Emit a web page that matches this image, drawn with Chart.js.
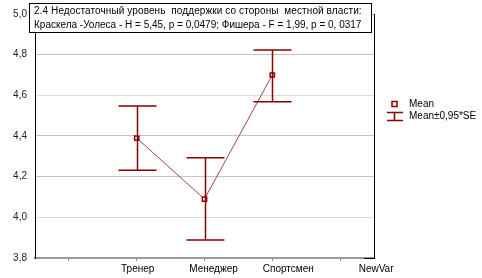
<!DOCTYPE html>
<html>
<head>
<meta charset="utf-8">
<script src="https://cdn.jsdelivr.net/npm/chart.js@4"></script>
<style>
  html, body { margin: 0; padding: 0; background: #fff; }
  #wrap { width: 482px; height: 278px; }
</style>
</head>
<body>
<div id="wrap"><canvas id="graph1" width="482" height="278"></canvas></div>
<script>
var categories = ['', 'Тренер', 'Менеджер', 'Спортсмен', 'NewVar'];
var means = [null, 4.39, 4.09, 4.70];
var upper = [null, 4.547, 4.293, 4.823];
var lower = [null, 4.232, 3.888, 4.568];
var yTicks = [3.8, 4.0, 4.2, 4.4, 4.6, 4.8, 5.0];
var titleLines = [
    '2.4 Недостаточный уровень  поддержки со стороны  местной власти:',
    'Краскела -Уолеса - H = 5,45, p = 0,0479; Фишера - F = 1,99, p = 0, 0317'
];
var legendLabels = ['Mean', 'Mean±0,95*SE'];

var barColor = '#8b0000';
var lineColor = '#a04848';
var fontFamily = '"Liberation Sans", Arial, sans-serif';
var font = '10px ' + fontFamily;
// statistica draws the category labels a little right of their ticks
var labelShift = [0, 1, 9, 16, 36];

var meanPoints = [];
means.forEach(function (m, i) {
    if (m !== null) meanPoints.push({ x: i, y: m });
});

// error bars, title box, legend, x labels and right border
var extras = {
    id: 'extras',
    afterDatasetsDraw: function (chart) {
        var ctx = chart.ctx;
        var xs = chart.scales.x, ys = chart.scales.y;
        ctx.save();
        ctx.strokeStyle = barColor;
        ctx.lineWidth = 1.5;
        means.forEach(function (m, i) {
            if (m === null) return;
            var px = Math.round(xs.getPixelForValue(i)) + 0.5;
            var pu = ys.getPixelForValue(upper[i]);
            var pl = ys.getPixelForValue(lower[i]);
            ctx.beginPath();
            ctx.moveTo(px, pu); ctx.lineTo(px, pl);
            ctx.moveTo(px - 19, pu); ctx.lineTo(px + 19, pu);
            ctx.moveTo(px - 19, pl); ctx.lineTo(px + 19, pl);
            ctx.stroke();
        });
        ctx.restore();
    },
    afterDraw: function (chart) {
        var ctx = chart.ctx;
        var area = chart.chartArea;
        var xs = chart.scales.x;
        ctx.save();
        // right border
        ctx.strokeStyle = '#000';
        ctx.lineWidth = 1;
        ctx.beginPath();
        ctx.moveTo(area.right + 0.5, area.top);
        ctx.lineTo(area.right + 0.5, area.bottom + 1);
        ctx.moveTo(area.right - 10, area.bottom + 0.5);
        ctx.lineTo(area.right + 1, area.bottom + 0.5);
        ctx.stroke();

        // category labels
        ctx.fillStyle = '#000';
        ctx.font = font;
        ctx.textBaseline = 'middle';
        ctx.textAlign = 'center';
        categories.forEach(function (c, i) {
            ctx.fillText(c, xs.getPixelForValue(i) + labelShift[i], 269);
        });

        // title box
        ctx.fillStyle = '#fff';
        ctx.fillRect(29.5, 3.5, 342, 29);
        ctx.strokeRect(29.5, 3.5, 342, 29);
        ctx.fillStyle = '#000';
        ctx.textAlign = 'left';
        ctx.letterSpacing = '0.1px';
        ctx.fillText(titleLines[0], 34, 11.5);
        ctx.letterSpacing = '0px';
        ctx.fillText(titleLines[1], 34, 25);

        // legend
        ctx.strokeStyle = barColor;
        ctx.lineWidth = 1.5;
        ctx.fillStyle = '#fff';
        ctx.fillRect(392, 101.5, 5, 5);
        ctx.strokeRect(392, 101.5, 5, 5);
        ctx.beginPath();
        ctx.moveTo(387, 112.5); ctx.lineTo(403, 112.5);
        ctx.moveTo(394.5, 112.5); ctx.lineTo(394.5, 120.5);
        ctx.moveTo(387, 120.5); ctx.lineTo(403, 120.5);
        ctx.stroke();
        ctx.fillStyle = '#000';
        ctx.fillText(legendLabels[0], 409, 104);
        ctx.fillText(legendLabels[1], 409, 116);
        ctx.restore();
    }
};

var data = {
    datasets: [{
        label: legendLabels[0],
        data: meanPoints,
        borderColor: lineColor,
        borderWidth: 1,
        pointStyle: 'rect',
        pointRadius: 3,
        pointBackgroundColor: '#fff',
        pointBorderColor: barColor,
        pointBorderWidth: 1.5,
        tension: 0
    }]
};

var config = {
    type: 'line',
    data: data,
    options: {
        responsive: false,
        animation: false,
        layout: { autoPadding: false, padding: { left: 0, right: 108, top: 8, bottom: 0 } },
        plugins: { legend: { display: false }, tooltip: { enabled: false } },
        scales: {
            x: {
                type: 'linear',
                min: -0.5,
                max: 4.5,
                afterBuildTicks: function (scale) {
                    scale.ticks = categories.map(function (c, i) { return { value: i }; });
                },
                afterFit: function (scale) { scale.height = 20; },
                ticks: { display: false },
                grid: { drawOnChartArea: false, drawTicks: true, tickLength: 3, color: '#888' },
                border: { color: '#999', width: 2 }
            },
            y: {
                min: 3.8,
                max: 5.0,
                afterBuildTicks: function (scale) {
                    scale.ticks = yTicks.map(function (v) { return { value: v }; });
                },
                afterFit: function (scale) { scale.width = 35; },
                ticks: {
                    color: '#222',
                    font: { family: fontFamily, size: 10 },
                    padding: 8,
                    callback: function (v) { return v.toFixed(1).replace('.', ','); }
                },
                grid: {
                    drawTicks: false,
                    color: function (c) {
                        var v = c.tick ? c.tick.value : 0;
                        if (Math.abs(v - 4.6) < 0.01 || Math.abs(v - 4.0) < 0.01) return '#dcdcdc';
                        return '#c4c4c4';
                    }
                },
                border: { color: '#000', width: 1 }
            }
        }
    },
    plugins: [extras]
};

var graph1 = new Chart(document.getElementById('graph1').getContext('2d'), config);
</script>
</body>
</html>
